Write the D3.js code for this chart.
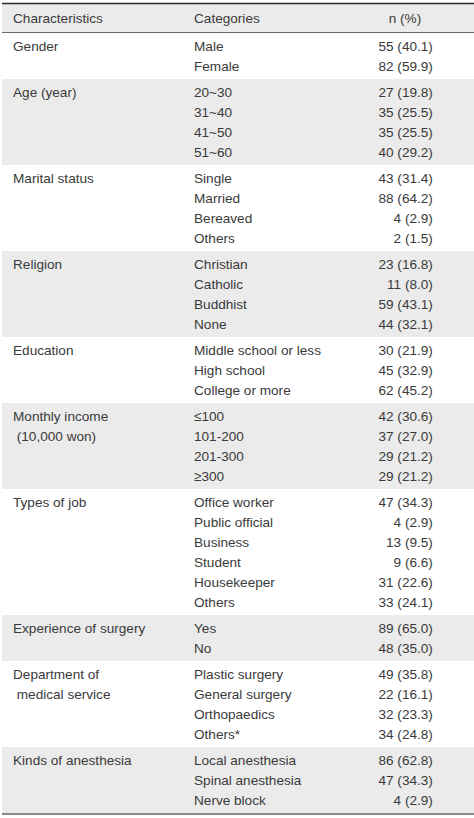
<!DOCTYPE html>
<html><head><meta charset="utf-8">
<script src="https://cdn.jsdelivr.net/npm/d3@7"></script>
<style>
html,body{margin:0;padding:0;background:#fff;}
svg{display:block;}
text{font-family:"Liberation Sans",Arial,sans-serif;font-size:13.6px;fill:#3a3a3a;}
</style></head>
<body>
<script>
const headers = ["Characteristics", "Categories", "n (%)"];
const groupLabels = [
  ["Gender"], ["Age (year)"], ["Marital status"], ["Religion"], ["Education"],
  ["Monthly income", " (10,000 won)"], ["Types of job"], ["Experience of surgery"],
  ["Department of", " medical service"], ["Kinds of anesthesia"]
];
const groupSizes = [2, 4, 4, 4, 3, 4, 6, 2, 4, 3];
const categories = [
  "Male", "Female",
  "20~30", "31~40", "41~50", "51~60",
  "Single", "Married", "Bereaved", "Others",
  "Christian", "Catholic", "Buddhist", "None",
  "Middle school or less", "High school", "College or more",
  "\u2264100", "101-200", "201-300", "\u2265300",
  "Office worker", "Public official", "Business", "Student", "Housekeeper", "Others",
  "Yes", "No",
  "Plastic surgery", "General surgery", "Orthopaedics", "Others*",
  "Local anesthesia", "Spinal anesthesia", "Nerve block"
];
const counts = [55, 82, 27, 35, 35, 40, 43, 88, 4, 2, 23, 11, 59, 44, 30, 45, 62,
  42, 37, 29, 29, 47, 4, 13, 9, 31, 33, 89, 48, 49, 22, 32, 34, 86, 47, 4];
const percents = ["40.1", "59.9", "19.8", "25.5", "25.5", "29.2", "31.4", "64.2", "2.9", "1.5",
  "16.8", "8.0", "43.1", "32.1", "21.9", "32.9", "45.2", "30.6", "27.0", "21.2", "21.2",
  "34.3", "2.9", "9.5", "6.6", "22.6", "24.1", "65.0", "35.0", "35.8", "16.1", "23.3", "24.8",
  "62.8", "34.3", "2.9"];

const W = 474, H = 818;
const rowH = 20, pad = 3, top0 = 4, headH = 28.5;
const svg = d3.select("body").append("svg").attr("width", W).attr("height", H);

// column scale
const colX = d3.scaleOrdinal().domain(["char", "cat", "dec"]).range([13, 194, 417]);

// compute group offsets
let groups = [];
let start = 0, y = top0 + headH + 0.5;
groupSizes.forEach((n, i) => {
  const h = n * rowH + 2 * pad;
  groups.push({i, start, n, y0: y, h, label: groupLabels[i]});
  start += n; y += h;
});
const bottomY = y;

// header band
svg.append("rect").attr("x", 2).attr("y", top0).attr("width", W - 2).attr("height", headH)
  .attr("fill", "#ebebeb");
svg.append("line").attr("x1", 2).attr("x2", W).attr("y1", top0 - 0.5).attr("y2", top0 - 0.5)
  .attr("stroke", "#2a2a2a").attr("stroke-width", 1.5);
svg.append("line").attr("x1", 2).attr("x2", W).attr("y1", top0 + headH).attr("y2", top0 + headH)
  .attr("stroke", "#6a6a6a").attr("stroke-width", 1);

const hy = top0 + headH / 2 + 5;
svg.append("text").attr("x", colX("char")).attr("y", hy).text(headers[0]);
svg.append("text").attr("x", colX("cat")).attr("y", hy).text(headers[1]);
svg.append("text").attr("x", 405).attr("y", hy).attr("text-anchor", "middle").text(headers[2]);

const g = svg.selectAll("g.grp").data(groups).join("g").attr("class", "grp");
g.append("rect").attr("x", 2).attr("y", d => d.y0).attr("width", W - 2).attr("height", d => d.h)
  .attr("fill", d => d.i % 2 === 1 ? "#ebebeb" : "#ffffff");

g.each(function(d) {
  const sel = d3.select(this);
  const yRow = d3.scaleLinear().domain([0, 1]).range([d.y0 + pad + rowH / 2 + 5, d.y0 + pad + rowH * 1.5 + 5]);
  d.label.forEach((t, k) => {
    sel.append("text").attr("x", colX("char")).attr("y", yRow(k)).attr("xml:space", "preserve")
      .style("white-space", "pre").text(t);
  });
  for (let k = 0; k < d.n; k++) {
    const idx = d.start + k;
    sel.append("text").attr("x", colX("cat")).attr("y", yRow(k)).text(categories[idx]);
    const [ip, fp] = percents[idx].split(".");
    sel.append("text").attr("x", colX("dec")).attr("y", yRow(k)).attr("text-anchor", "end")
      .text(counts[idx] + " (" + ip);
    sel.append("text").attr("x", colX("dec")).attr("y", yRow(k)).text("." + fp + ")");
  }
});

svg.append("line").attr("x1", 2).attr("x2", W).attr("y1", bottomY + 1).attr("y2", bottomY + 1)
  .attr("stroke", "#8a8a8a").attr("stroke-width", 2);
</script>
</body></html>
